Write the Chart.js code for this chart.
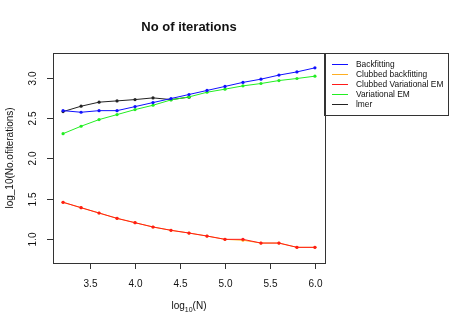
<!DOCTYPE html>
<html>
<head>
<meta charset="utf-8">
<script src="https://cdn.jsdelivr.net/npm/chart.js@4"></script>
<style>
  html, body { margin: 0; padding: 0; background: #fff; }
  #wrap { width: 456px; height: 330px; }
</style>
</head>
<body>
<div id="wrap"><canvas id="c" width="456" height="330"></canvas></div>
<script>
// x: log10(N)
var logN = [3.2, 3.4, 3.6, 3.8, 4.0, 4.2, 4.4, 4.6, 4.8, 5.0, 5.2, 5.4, 5.6, 5.8, 6.0];

// log10(no. of iterations) per method
var backfitting = [2.59, 2.57, 2.59, 2.59, 2.64, 2.69, 2.74, 2.79, 2.84, 2.89, 2.94, 2.98, 3.03, 3.07, 3.12];
var clubbedBackfitting = [1.455, 1.388, 1.322, 1.256, 1.202, 1.149, 1.108, 1.074, 1.037, 0.996, 0.985, 0.95, 0.95, 0.897, 0.897];
var clubbedVarEM = [1.455, 1.388, 1.322, 1.256, 1.202, 1.149, 1.108, 1.074, 1.037, 0.996, 0.996, 0.95, 0.95, 0.897, 0.897];
var variationalEM = [2.305, 2.397, 2.479, 2.541, 2.603, 2.657, 2.723, 2.76, 2.818, 2.856, 2.897, 2.926, 2.963, 2.988, 3.017];
var lmer = [2.578, 2.645, 2.695, 2.711, 2.727, 2.748, 2.727, 2.757];

var xTicks = [3.5, 4.0, 4.5, 5.0, 5.5, 6.0];
var yTicks = [1.0, 1.5, 2.0, 2.5, 3.0];

var seriesNames = ["Backfitting", "Clubbed backfitting", "Clubbed Variational EM", "Variational EM", "lmer"];
var seriesColors = ["#1010ff", "#ffb020", "#ff1a1a", "#22ee22", "#222222"];
var seriesValues = [backfitting, clubbedBackfitting, clubbedVarEM, variationalEM, lmer];
// 重なり順（小さいほど上）
var drawOrder = [1, 4, 2, 3, 5];

function pts(vals) {
  return vals.map(function (v, i) { return { x: logN[i], y: v }; });
}

var FONT = "'Liberation Sans', Arial, sans-serif";

// 軸・枠・凡例・タイトルを R 風に描く
var rAxes = {
  id: 'rAxes',
  afterDraw: function (chart) {
    var ctx = chart.ctx;
    var a = chart.chartArea;
    var xs = chart.scales.x, ys = chart.scales.y;
    ctx.save();
    ctx.strokeStyle = '#333';
    ctx.lineWidth = 1;
    ctx.strokeRect(Math.round(a.left) + 0.5, Math.round(a.top) + 0.5,
                   Math.round(a.right - a.left), Math.round(a.bottom - a.top));

    ctx.fillStyle = '#111';
    ctx.font = '10px ' + FONT;
    // x ticks
    ctx.textAlign = 'center';
    ctx.textBaseline = 'middle';
    xTicks.forEach(function (t) {
      var px = Math.round(xs.getPixelForValue(t)) + 0.5;
      ctx.beginPath();
      ctx.moveTo(px, a.bottom);
      ctx.lineTo(px, a.bottom + 6);
      ctx.stroke();
      ctx.fillText(t.toFixed(1), px, a.bottom + 21);
    });
    // y ticks (rotated labels)
    yTicks.forEach(function (t) {
      var py = Math.round(ys.getPixelForValue(t)) + 0.5;
      ctx.beginPath();
      ctx.moveTo(a.left, py);
      ctx.lineTo(a.left - 6, py);
      ctx.stroke();
      ctx.save();
      ctx.translate(a.left - 20, py);
      ctx.rotate(-Math.PI / 2);
      ctx.fillText(t.toFixed(1), 0, 0);
      ctx.restore();
    });

    // x title: log10(N)
    var cx = (a.left + a.right) / 2;
    ctx.font = '10px ' + FONT;
    var w1 = ctx.measureText('log').width;
    ctx.font = '7px ' + FONT;
    var w2 = ctx.measureText('10').width;
    ctx.font = '10px ' + FONT;
    var w3 = ctx.measureText('(N)').width;
    var sx = cx - (w1 + w2 + w3) / 2;
    ctx.textAlign = 'left';
    ctx.fillText('log', sx, 306);
    ctx.font = '7px ' + FONT;
    ctx.fillText('10', sx + w1, 310);
    ctx.font = '10px ' + FONT;
    ctx.fillText('(N)', sx + w1 + w2, 306);

    // y title
    ctx.save();
    ctx.translate(10, (a.top + a.bottom) / 2);
    ctx.rotate(-Math.PI / 2);
    ctx.textAlign = 'center';
    ctx.fillText('log_10(No.ofiterations)', 0, 0);
    ctx.restore();

    // title
    ctx.font = 'bold 13px ' + FONT;
    ctx.textAlign = 'center';
    ctx.fillText('No of iterations', cx, 27);

    // legend
    var lx = 324, ly = 53, lw = 124, lh = 62;
    ctx.strokeRect(lx + 0.5, ly + 0.5, lw, lh);
    ctx.font = '8.4px ' + FONT;
    ctx.textAlign = 'left';
    seriesNames.forEach(function (name, i) {
      var yy = ly + 11 + i * 10;
      ctx.strokeStyle = seriesColors[i];
      ctx.beginPath();
      ctx.moveTo(lx + 8, yy + 0.5);
      ctx.lineTo(lx + 24, yy + 0.5);
      ctx.stroke();
      ctx.fillStyle = '#111';
      ctx.fillText(name, lx + 32, yy + 1);
    });
    ctx.restore();
  }
};

var datasets = seriesNames.map(function (name, i) {
  return {
    label: name,
    data: pts(seriesValues[i]),
    borderColor: seriesColors[i],
    backgroundColor: seriesColors[i],
    borderWidth: 1,
    pointRadius: 1.6,
    pointBorderWidth: 0,
    showLine: true,
    tension: 0,
    order: drawOrder[i]
  };
});

new Chart(document.getElementById('c'), {
  type: 'scatter',
  data: { datasets: datasets },
  options: {
    responsive: false,
    animation: false,
    devicePixelRatio: 1,
    layout: { padding: { left: 53, top: 53, right: 131, bottom: 67 } },
    plugins: { legend: { display: false }, title: { display: false }, tooltip: { enabled: false } },
    scales: {
      x: { type: 'linear', display: false, min: 3.088, max: 6.112 },
      y: { type: 'linear', display: false, min: 0.703, max: 3.304 }
    }
  },
  plugins: [rAxes]
});
</script>
</body>
</html>
